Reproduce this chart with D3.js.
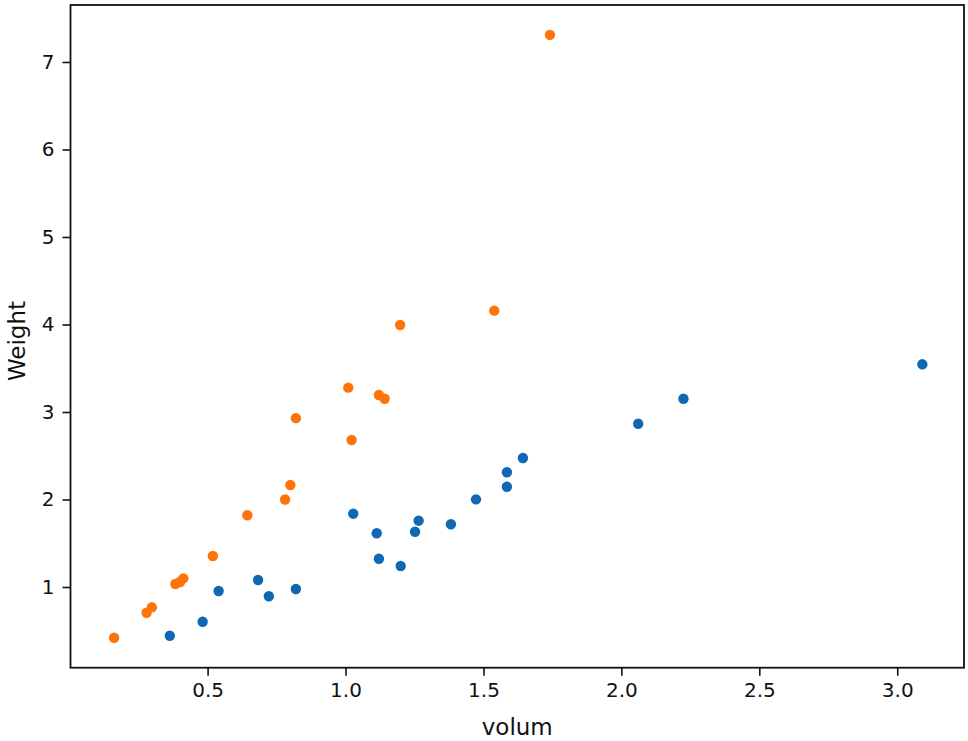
<!DOCTYPE html>
<html>
<head>
<meta charset="utf-8">
<script src="https://cdn.jsdelivr.net/npm/d3@7/dist/d3.min.js"></script>
<style>
  body { margin: 0; background: #fff; }
  svg { display: block; font-family: "DejaVu Sans", sans-serif; }
</style>
</head>
<body>
<div id="chart"></div>
<script>
// blue series (volum, Weight)
var blueVolum  = [0.363, 0.482, 0.540, 0.683, 0.722, 0.820, 1.028, 1.113, 1.121, 1.200,
                  1.252, 1.265, 1.382, 1.473, 1.585, 1.585, 1.643, 2.061, 2.225, 3.091];
var blueWeight = [0.443, 0.603, 0.954, 1.080, 0.894, 0.977, 1.838, 1.614, 1.323, 1.240,
                  1.632, 1.758, 1.717, 2.002, 2.146, 2.311, 2.474, 2.866, 3.152, 3.545];

// orange series
var orangeVolum  = [0.161, 0.279, 0.298, 0.383, 0.400, 0.412, 0.519, 0.644, 0.781, 0.800,
                    0.820, 1.010, 1.022, 1.121, 1.142, 1.198, 1.539, 1.741];
var orangeWeight = [0.420, 0.706, 0.768, 1.034, 1.057, 1.099, 1.354, 1.820, 2.000, 2.166,
                    2.930, 3.278, 2.680, 3.194, 3.152, 3.994, 4.158, 7.310];

var xTicks = [0.5, 1.0, 1.5, 2.0, 2.5, 3.0];
var yTicks = [1, 2, 3, 4, 5, 6, 7];

var xDomain = [0.003, 3.242];
var yDomain = [0.078, 7.651];

var width = 968, height = 741;
var margin = {top: 5, right: 4, bottom: 73.3, left: 70.5};
var innerW = width - margin.left - margin.right;
var innerH = height - margin.top - margin.bottom;

var x = d3.scaleLinear().domain(xDomain).range([0, innerW]);
var y = d3.scaleLinear().domain(yDomain).range([innerH, 0]);

var svg = d3.select("#chart").append("svg")
    .attr("width", width)
    .attr("height", height);

var g = svg.append("g")
    .attr("transform", "translate(" + margin.left + "," + margin.top + ")");

function pairs(xs, ys) {
    return xs.map(function(v, i) { return {x: v, y: ys[i]}; });
}

var series = [
    {name: "blue", color: "#1068b2", data: pairs(blueVolum, blueWeight)},
    {name: "orange", color: "#ff7408", data: pairs(orangeVolum, orangeWeight)}
];

series.forEach(function(s) {
    g.append("g")
        .selectAll("circle")
        .data(s.data)
        .enter().append("circle")
        .attr("cx", function(d) { return x(d.x); })
        .attr("cy", function(d) { return y(d.y); })
        .attr("r", 5.2)
        .attr("fill", s.color);
});

// axes
var xAxis = d3.axisBottom(x)
    .tickValues(xTicks)
    .tickFormat(d3.format(".1f"))
    .tickSizeInner(8)
    .tickSizeOuter(0)
    .tickPadding(7);

var yAxis = d3.axisLeft(y)
    .tickValues(yTicks)
    .tickFormat(d3.format("d"))
    .tickSizeInner(8)
    .tickSizeOuter(0)
    .tickPadding(8);

var gx = g.append("g")
    .attr("transform", "translate(0," + innerH + ")")
    .call(xAxis);
var gy = g.append("g").call(yAxis);

[gx, gy].forEach(function(a) {
    a.select(".domain").remove();
    a.selectAll(".tick line").attr("stroke", "#111").attr("stroke-width", 1.6);
    a.selectAll(".tick text")
        .attr("fill", "#111")
        .style("font-size", "20px")
        .style("font-family", "DejaVu Sans, sans-serif");
});

// frame
g.append("rect")
    .attr("x", 0)
    .attr("y", 0)
    .attr("width", innerW)
    .attr("height", innerH)
    .attr("fill", "none")
    .attr("stroke", "#111")
    .attr("stroke-width", 1.8);

// axis labels
svg.append("text")
    .attr("x", margin.left + innerW / 2)
    .attr("y", 735)
    .attr("text-anchor", "middle")
    .attr("fill", "#111")
    .style("font-size", "23px")
    .text("volum");

svg.append("text")
    .attr("transform", "translate(25," + 341 + ") rotate(-90)")
    .attr("text-anchor", "middle")
    .attr("fill", "#111")
    .style("font-size", "23px")
    .text("Weight");
</script>
</body>
</html>
